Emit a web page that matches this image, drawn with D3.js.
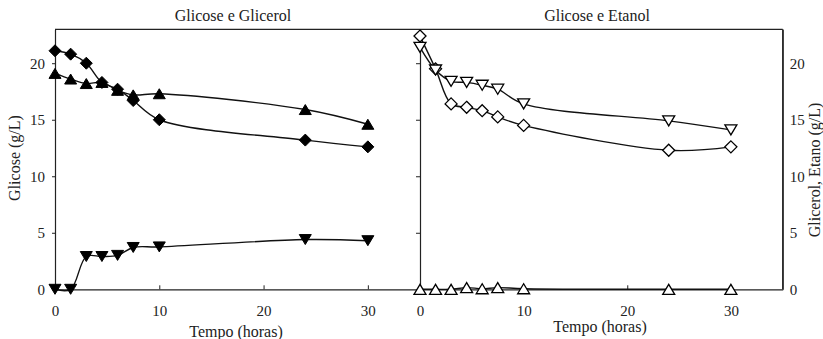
<!DOCTYPE html>
<html><head><meta charset="utf-8">
<script src="https://cdn.jsdelivr.net/npm/d3@7"></script>
<style>
body{margin:0;background:#fff;}
svg text{font-family:"Liberation Serif","Tinos","DejaVu Serif","Noto Serif",serif !important;fill:#222;}
</style></head>
<body><svg id="c" width="823" height="339"></svg>
<script>
// ---- data ----
const tempo = [0, 1.5, 3, 4.5, 6, 7.5, 10, 24, 30];
// left panel: Glicose e Glicerol
const leftGlicose   = [21.1, 20.8, 20.0, 18.3, 17.7, 16.7, 15.0, 13.2, 12.6]; // filled diamonds
const leftGlicerol  = [19.1, 18.6, 18.2, 18.3, 17.6, 17.2, 17.3, 15.9, 14.6]; // filled triangle up
const leftEtanol    = [0.0, 0.0, 2.9, 2.9, 3.0, 3.7, 3.75, 4.4, 4.3];        // filled triangle down
// right panel: Glicose e Etanol
const rightGlicose  = [22.4, 19.5, 16.4, 16.1, 15.8, 15.25, 14.5, 12.3, 12.6]; // open diamonds
const rightEtanol   = [21.4, 19.4, 18.4, 18.3, 18.05, 17.7, 16.4, 14.9, 14.1]; // open triangle down
const rightGlicerol = [0.0, 0.0, 0.0, 0.15, 0.05, 0.15, 0.05, 0.0, 0.0];       // open triangle up
const xTicks = [0, 10, 20, 30];
const yTicks = [0, 5, 10, 15, 20];
const titles = ["Glicose e Glicerol", "Glicose e Etanol"];
const xLabel = "Tempo (horas)";
const yLabelLeft = "Glicose (g/L)";
const yLabelRight = "Glicerol, Etano (g/L)";

// ---- drawing ----
const FONT = "'Liberation Serif', Tinos, 'DejaVu Serif', 'Noto Serif', serif";
const svg = d3.select("#c").attr("font-family", FONT);
const plotTop = 29.3, plotBottom = 289.3;
const y = d3.scaleLinear().domain([0, 23]).range([plotBottom, plotTop]);
const xL = d3.scaleLinear().domain([0, 35]).range([55, 420]);
const xR = d3.scaleLinear().domain([0, 35]).range([420, 782.7]);

const triDown = "M0,5 L-6,-5 L6,-5 Z";
const triUp = "M0,-5 L-6,5 L6,5 Z";
const diamond = "M0,-6 L6,0 L0,6 L-6,0 Z";

function series(x, vals, shape, filled){
  const pts = tempo.map((t,i)=>[t, vals[i]]);
  const line = d3.line().x(d=>x(d[0])).y(d=>y(d[1])).curve(d3.curveCatmullRom.alpha(0.5));
  svg.append("path").attr("d", line(pts)).attr("fill","none").attr("stroke","#111").attr("stroke-width",1.4);
  return pts.map(d=>({x:x(d[0]), y:y(d[1]), shape, filled}));
}
function drawMarkers(list){
  list.forEach(m=>{
    svg.append("path").attr("d", m.shape).attr("transform",`translate(${m.x},${m.y})`)
      .attr("fill", m.filled ? "#000" : "#fff").attr("stroke","#000")
      .attr("stroke-width", m.filled ? 1 : 1.3).attr("stroke-linejoin","miter");
  });
}

// frames
const frame = svg.append("g").attr("stroke","#222").attr("stroke-width",1.2).attr("fill","none");
frame.append("line").attr("x1",55).attr("x2",782.7).attr("y1",plotTop).attr("y2",plotTop);
frame.append("line").attr("x1",782.7).attr("x2",782.7).attr("y1",plotTop).attr("y2",plotBottom);

// axes
function styleAxis(g){
  g.attr("font-family", FONT);
  g.select(".domain").attr("stroke","#222").attr("stroke-width",1.2);
  g.selectAll(".tick line").attr("stroke","#222");
  g.selectAll("text").attr("font-size",15).attr("fill","#222").attr("font-family", FONT);
}
svg.append("g").attr("transform",`translate(0,${plotBottom})`)
  .call(d3.axisBottom(xL).tickValues(xTicks).tickSizeInner(-4).tickSizeOuter(0).tickPadding(16).tickFormat(d3.format("d")))
  .call(styleAxis);
svg.append("g").attr("transform",`translate(0,${plotBottom})`)
  .call(d3.axisBottom(xR).tickValues(xTicks).tickSizeInner(-4).tickSizeOuter(0).tickPadding(16).tickFormat(d3.format("d")))
  .call(styleAxis);
svg.append("g").attr("transform",`translate(55,0)`)
  .call(d3.axisLeft(y).tickValues(yTicks).tickSizeInner(3).tickSizeOuter(0).tickPadding(7).tickFormat(d3.format("d")))
  .call(styleAxis);
svg.append("g").attr("transform",`translate(420,0)`)
  .call(d3.axisLeft(y).tickValues(yTicks).tickSizeInner(4).tickSizeOuter(0).tickFormat(""))
  .call(styleAxis);
svg.append("g").attr("transform",`translate(782.7,0)`)
  .call(d3.axisRight(y).tickValues(yTicks).tickSizeInner(0).tickSizeOuter(0).tickPadding(7).tickFormat(d3.format("d")))
  .call(styleAxis);

// series
const mk = [];
mk.push(...series(xL, leftGlicerol, triUp, true));
mk.push(...series(xL, leftGlicose, diamond, true));
mk.push(...series(xL, leftEtanol, triDown, true));
mk.push(...series(xR, rightGlicerol, triUp, false));
mk.push(...series(xR, rightGlicose, diamond, false));
mk.push(...series(xR, rightEtanol, triDown, false));
drawMarkers(mk);

// text
function label(x, yy, txt, rot){
  const t = svg.append("text").attr("text-anchor","middle").attr("font-size",16)
    .attr("font-family", FONT).text(txt);
  t.attr("transform", `translate(${x},${yy})` + (rot ? " rotate(-90)" : ""));
}
label(233, 21, titles[0]);
label(597, 21, titles[1]);
label(236, 337, xLabel);
label(600, 332, xLabel);
label(20, 158, yLabelLeft, true);
label(820, 170, yLabelRight, true);
</script></body></html>
